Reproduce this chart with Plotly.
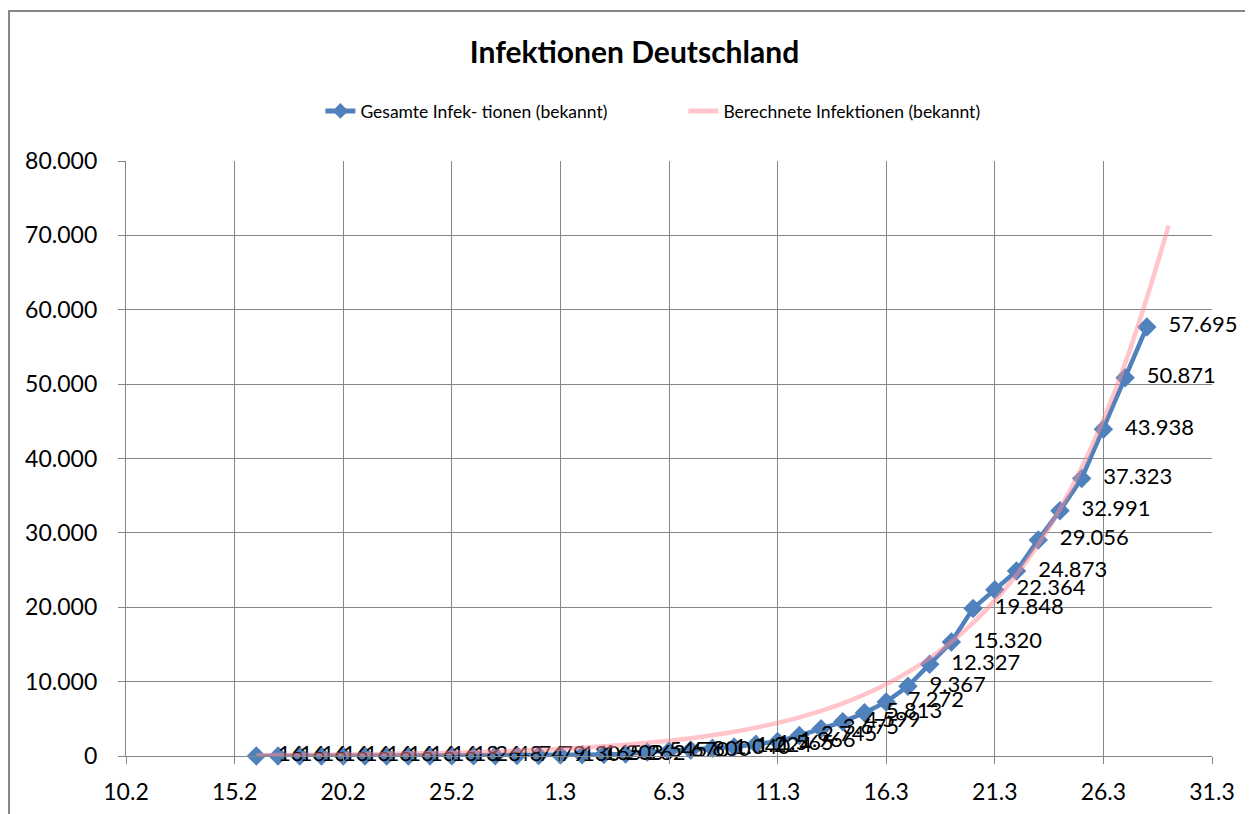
import plotly.graph_objects as go

# Daily dates (2020) for the reported series
dates = [
    "2020-02-16", "2020-02-17", "2020-02-18", "2020-02-19", "2020-02-20", "2020-02-21",
    "2020-02-22", "2020-02-23", "2020-02-24", "2020-02-25", "2020-02-26", "2020-02-27",
    "2020-02-28", "2020-02-29", "2020-03-01", "2020-03-02", "2020-03-03", "2020-03-04",
    "2020-03-05", "2020-03-06", "2020-03-07", "2020-03-08", "2020-03-09", "2020-03-10",
    "2020-03-11", "2020-03-12", "2020-03-13", "2020-03-14", "2020-03-15", "2020-03-16",
    "2020-03-17", "2020-03-18", "2020-03-19", "2020-03-20", "2020-03-21", "2020-03-22",
    "2020-03-23", "2020-03-24", "2020-03-25", "2020-03-26", "2020-03-27", "2020-03-28",
]
infected = [
    16, 16, 16, 16, 16, 16, 16, 16, 16, 18, 26, 48, 74, 79,
    130, 165, 203, 262, 545, 670, 800, 1040, 1224, 1565, 1966, 2745, 3675, 4599,
    5813, 7272, 9367, 12327, 15320, 19848, 22364, 24873, 29056, 32991, 37323,
    43938, 50871, 57695,
]

# Calculated curve, one day longer
calc_dates = dates + ["2020-03-29"]
calculated = [
    110, 128, 149, 174, 203, 237, 277, 323, 377, 440, 513, 599, 699, 816,
    952, 1110, 1300, 1510, 1770, 2060, 2400, 2800, 3270, 3820, 4460, 5200,
    6070, 7090, 8270, 9650, 11260, 13140, 15340, 17900, 20890, 24380, 28450,
    33200, 38750, 45220, 52770, 61580, 71300,
]

FONT = "Lato"
BLUE = "#4F81BD"
GRID = "#878787"

fig = go.Figure()

fig.add_trace(go.Scatter(
    x=dates, y=infected,
    name="Gesamte Infek- tionen (bekannt)",
    mode="lines+markers+text",
    line=dict(color=BLUE, width=4.5),
    marker=dict(symbol="diamond", size=15, color=BLUE),
    texttemplate="\u00a0\u00a0%{y:,}",
    textposition="middle right",
    textfont=dict(family=FONT, size=22, color="#000000"),
    cliponaxis=False,
))

fig.add_trace(go.Scatter(
    x=calc_dates, y=calculated,
    name="Berechnete Infektionen (bekannt)",
    mode="lines",
    line=dict(color="rgba(255,140,150,0.5)", width=4.5, shape="spline"),
))

# outer chart frame (runs off the right/bottom edge like the original)
fig.add_shape(type="rect", xref="paper", yref="paper",
              x0=-0.1077, x1=1.3, y0=-0.3, y1=1.252,
              line=dict(color="#868686", width=2), layer="below")

fig.update_xaxes(
    type="date",
    range=["2020-02-10", "2020-03-31"],
    tick0="2020-02-10",
    dtick=5 * 86400000,
    tickformat="%-d.%-m",
    showgrid=True, gridcolor=GRID, gridwidth=1.3,
    showline=True, linecolor=GRID, linewidth=1.3,
    ticks="outside", ticklen=7, tickcolor=GRID,
    ticklabelstandoff=8,
    tickfont=dict(family=FONT, size=23, color="#000000"),
    zeroline=False,
)
fig.update_yaxes(
    range=[0, 80000],
    dtick=10000,
    tickformat=",d",
    showgrid=True, gridcolor=GRID, gridwidth=1.3,
    showline=True, linecolor=GRID, linewidth=1.3,
    ticks="outside", ticklen=7, tickcolor=GRID,
    ticklabelstandoff=16,
    tickfont=dict(family=FONT, size=23, color="#000000"),
    zeroline=False,
)

fig.update_layout(
    width=1253, height=814,
    separators=",.",
    paper_bgcolor="white", plot_bgcolor="white",
    margin=dict(l=118, r=49, t=153, b=66),
    title=dict(text="<b>Infektionen Deutschland</b>", x=0.500, xanchor="center",
               y=1 - 44 / 814, yanchor="middle",
               font=dict(family=FONT, size=30, color="#000000")),
    legend=dict(orientation="h", x=0.179, xanchor="left", y=1.084, yanchor="middle",
                font=dict(family=FONT, size=17.5, color="#000000"),
                bgcolor="rgba(0,0,0,0)", entrywidth=318, entrywidthmode="pixels",
                itemsizing="constant"),
    showlegend=True,
)

fig.write_html("out.html")
